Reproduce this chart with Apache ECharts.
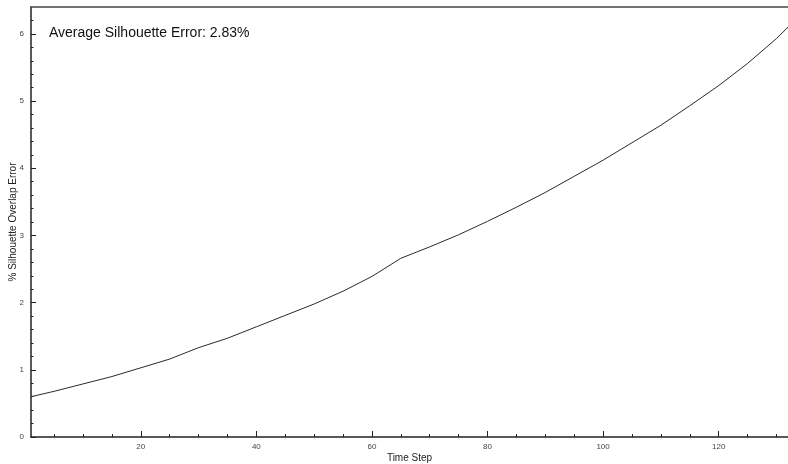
<!DOCTYPE html>
<html>
<head>
<meta charset="utf-8">
<script src="https://cdn.jsdelivr.net/npm/echarts@6/dist/echarts.min.js"></script>
<style>
  html, body { margin: 0; padding: 0; background: #fff; }
  #chart { width: 788px; height: 464px; }
</style>
</head>
<body>
<div id="chart"></div>
<script>
// time steps and the error
const timeSteps = [1, 5, 10, 15, 20, 25, 30, 35, 40, 45, 50, 55, 60, 65,
  70, 75, 80, 85, 90, 95, 100, 105, 110, 115, 120, 125, 130, 132];
const errorValues = [0.60, 0.68, 0.79, 0.90, 1.03, 1.16, 1.33, 1.47, 1.64, 1.81, 1.98, 2.17, 2.39, 2.66,
  2.83, 3.01, 3.21, 3.42, 3.64, 3.88, 4.12, 4.38, 4.64, 4.93, 5.23, 5.56, 5.93, 6.10];

// tick positions
const xMajorTicks = [20, 40, 60, 80, 100, 120];
const xMinorTicks = [5, 10, 15, 25, 30, 35, 45, 50, 55, 65, 70, 75, 85, 90, 95,
  105, 110, 115, 125, 130];
const yMajorTicks = [0, 1, 2, 3, 4, 5, 6];
const yMinorTicks = [0.2, 0.4, 0.6, 0.8, 1.2, 1.4, 1.6, 1.8, 2.2, 2.4, 2.6, 2.8,
  3.2, 3.4, 3.6, 3.8, 4.2, 4.4, 4.6, 4.8, 5.2, 5.4, 5.6, 5.8, 6.2];

const avgText = "Average Silhouette Error: 2.83%";

const chart = echarts.init(document.getElementById("chart"));
const fontFam = "'Liberation Sans', Arial, sans-serif";
const axisCol = "#222";

const lineData = timeSteps.map((t, i) => [t, errorValues[i]]);

const option = {
  animation: false,
  backgroundColor: "#fff",
  textStyle: { fontFamily: fontFam },
  title: {
    text: avgText,
    left: 49,
    top: 26,
    padding: 0,
    textStyle: { fontSize: 14, fontWeight: "normal", color: "#111", fontFamily: fontFam },
  },
  grid: { left: 31, right: 0, top: 7, bottom: 27, containLabel: false, outerBoundsMode: "none" },
  xAxis: [
    {
      type: "value",
      min: 1,
      max: 132,
      position: "bottom",
      name: "Time Step",
      nameLocation: "middle",
      nameGap: 16,
      nameMoveOverlap: false,
      nameTextStyle: { fontSize: 10, color: "#222", fontFamily: fontFam },
      axisLine: { show: true, lineStyle: { color: axisCol, width: 1.5 } },
      axisTick: { show: true, inside: true, length: 6, customValues: xMajorTicks,
        lineStyle: { color: axisCol, width: 1 } },
      axisLabel: { show: true, customValues: xMajorTicks, fontSize: 8, color: "#444", margin: 6 },
      splitLine: { show: false },
    },
    {
      type: "value",
      min: 1,
      max: 132,
      position: "bottom",
      axisLine: { show: false },
      axisTick: { show: true, inside: true, length: 3, customValues: xMinorTicks,
        lineStyle: { color: axisCol, width: 1 } },
      axisLabel: { show: false },
      splitLine: { show: false },
    },
    {
      type: "value",
      min: 1,
      max: 132,
      position: "top",
      axisLine: { show: true, lineStyle: { color: "#444", width: 1.5 } },
      axisTick: { show: false },
      axisLabel: { show: false },
      splitLine: { show: false },
    },
  ],
  yAxis: [
    {
      type: "value",
      min: 0,
      max: 6.4,
      position: "left",
      name: "% Silhouette Overlap Error",
      nameLocation: "middle",
      nameGap: 13,
      nameMoveOverlap: false,
      nameTextStyle: { fontSize: 10, color: "#222", fontFamily: fontFam },
      axisLine: { show: true, lineStyle: { color: axisCol, width: 1.5 } },
      axisTick: { show: true, inside: true, length: 5, customValues: yMajorTicks,
        lineStyle: { color: axisCol, width: 1 } },
      axisLabel: { show: true, customValues: yMajorTicks, fontSize: 8, color: "#444", margin: 7 },
      splitLine: { show: false },
    },
    {
      type: "value",
      min: 0,
      max: 6.4,
      position: "left",
      axisLine: { show: false },
      axisTick: { show: true, inside: true, length: 2.5, customValues: yMinorTicks,
        lineStyle: { color: axisCol, width: 1 } },
      axisLabel: { show: false },
      splitLine: { show: false },
    },
  ],
  series: [
    {
      name: "error",
      type: "line",
      xAxisIndex: 0,
      yAxisIndex: 0,
      data: lineData,
      smooth: false,
      symbol: "none",
      lineStyle: { color: "#2a2a2a", width: 1 },
    },
  ],
};

chart.setOption(option);
</script>
</body>
</html>
